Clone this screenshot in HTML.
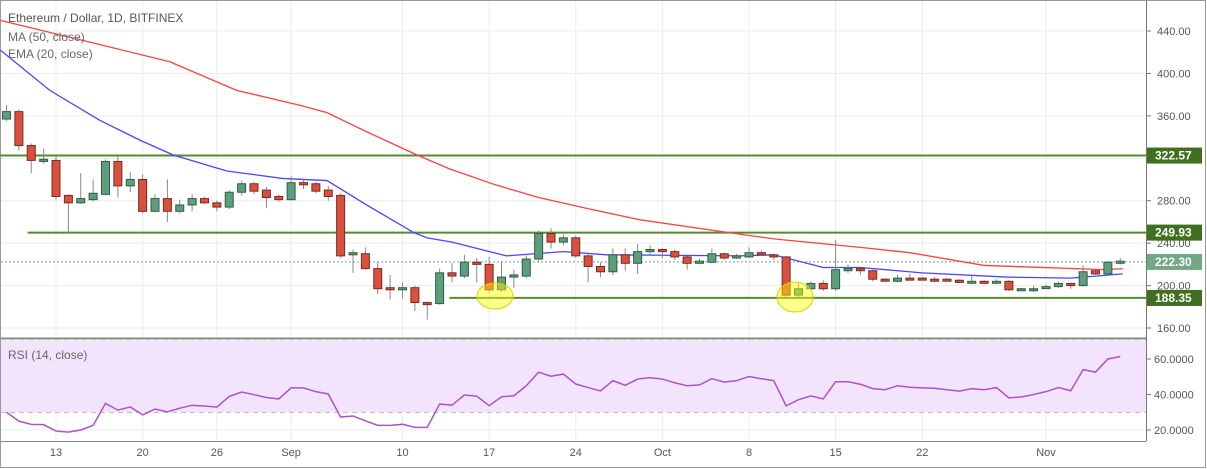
<!DOCTYPE html>
<html><head><meta charset="utf-8"><style>
html,body{margin:0;padding:0;background:#fff;}
svg{display:block;font-family:"Liberation Sans",sans-serif;}
</style></head><body>
<svg id="chart" width="1207" height="469" viewBox="0 0 1207 469">
<rect x="0.5" y="0.5" width="1205" height="467" fill="#fff" stroke="#9a9a9a"/>
<g id="grid"></g>
<rect x="1" y="341" width="1145" height="71" fill="#f3e4fd"/>
<g id="levels"></g>
<g id="lines"></g>
<g id="candles"></g>
<g id="rsi"></g>
<g id="axes"></g>
<text x="8" y="22" font-size="12" fill="#555">Ethereum / Dollar, 1D, BITFINEX</text>
<text x="8" y="41" font-size="12" fill="#666">MA (50, close)</text>
<text x="8" y="58" font-size="12" fill="#666">EMA (20, close)</text>
<text x="8" y="359" font-size="12" fill="#666">RSI (14, close)</text>
</svg>
<script>
const opens=[357,364,332,317,318,285,278,281,286,317,294,300,270,282,270,276,282,278,274,288,296,290,284,281,297,296,290,285,229,230,216,198,196,198,184,183,212,209,222,220,196,208,209,225,249,241,245,228,218,213,229,221,232,234,232,227,221,222,230,226,227,231,229,227,191,197,202,197,214,216,214,206,204,207,207,206,206,205,203,204,203,204,196,196,198,199,202,200,214,211,221];
const closes=[364,332,318,319,284,278,282,287,317,294,300,270,282,270,276,282,278,274,288,296,289,283,281,297,295,289,284,228,231,216,197,196,198,184,182,212,209,222,220,196,208,210,225,249,241,245,228,218,213,229,221,232,234,232,227,221,223,230,226,228,231,229,227,191,197,202,197,215,216,214,206,205,207,206,206,205,205,203,204,203,204,196,197,197,199,202,200,213,211,222,223];
const highs=[370,366,334,329,323,286,306,300,319,322,307,305,286,300,281,286,284,280,290,299,298,293,286,303,301,298,294,287,234,236,222,210,203,200,185,216,221,229,226,227,222,215,230,252,254,248,247,230,222,235,235,239,238,235,234,228,225,235,231,230,236,233,230,228,203,204,205,243,220,217,215,207,210,211,208,208,207,206,209,205,206,205,198,200,201,204,203,219,216,223,226];
const lows=[355,327,306,315,281,250,277,279,285,283,288,268,269,260,268,270,277,270,272,285,286,273,279,280,291,287,280,226,212,215,192,187,188,176,168,182,203,207,203,193,194,198,207,223,235,238,226,203,208,210,214,211,229,226,224,215,220,221,224,225,226,228,224,189,189,196,195,195,212,210,204,204,203,205,205,203,204,203,203,202,203,195,195,194,197,198,197,199,210,210,220];
const rsiValues=[30,25,23.2,23,19.4,18.8,20,22.6,35,31.2,33,28.5,31.8,30.2,32.3,33.9,33.5,32.9,38.9,41.4,39.9,38.3,37.5,43.7,43.7,41.6,40.3,27.3,27.9,25.2,22.6,22.6,23.2,21.5,21.5,34.6,34,39.7,39.1,33.7,38.7,39.3,44.9,52.6,50.3,51.5,45.9,43.9,42,47.8,45.2,48.7,49.5,48.7,46.6,44.9,45.4,48.9,47,47.8,50.1,48.9,47.8,33.6,37.1,39.2,37.5,47.2,47.2,45.8,43.3,42.7,44.9,44.1,43.7,43.5,42.7,41.9,43.3,42.7,43.9,38.1,38.6,40,41.6,43.9,42.1,54,52.6,60,61.4];
const emaDays=[-4.5,-0.5,3.5,6.8,9.5,13.8,18.3,21.9,25.1,28.9,30,32,36.4,41,44.5,55.3,58,62,65,70,76.8,82,86.2];
const emaValues=[422,384,356,337,323,308,301,299,276,250,245,241,228,232,229,228,229,217,217,212,208,207,211];
const maDays=[-4.5,3.6,9.2,14.6,19.7,21.9,25.1,29.2,31.8,35.5,39,43.2,47.2,54.3,58,65,69,75,84.7,86.2];
const maValues=[450,427,411,384,370,363,345,323,310,295,283,272,262,250,244,236,231,219,215,216];
const priceTicks=[440,400,360,280,240,200,160];
const rsiTicks=[60,40,20];
const dateLabels=["13","20","26","Sep","10","17","24","Oct","8","15","22","Nov"];
const dateDays=[0,7,13,19,28,35,42,49,56,63,70,80];
const levelValues=[322.57,249.93,188.35];
const levelStartDays=[-4.6,-2.3,31.8];
const lastPrice=222.30;
const NS="http://www.w3.org/2000/svg";
const X=d=>56+d*12.375;
const Y=p=>31+(440-p)*1.0607;
const RY=v=>359+(60-v)*1.775;
function mk(tag,attrs,parent,text){const e=document.createElementNS(NS,tag);for(const k in attrs)e.setAttribute(k,attrs[k]);if(text!==undefined)e.textContent=text;parent.appendChild(e);return e;}
const grid=document.getElementById('grid'),axes=document.getElementById('axes');
priceTicks.concat([320]).forEach(p=>{const l=mk('line',{x1:1,x2:1146,y1:Y(p),y2:Y(p),stroke:'#ececec','stroke-width':1},grid);

});
rsiTicks.forEach(v=>{const l=mk('line',{x1:1,x2:1146,y1:RY(v),y2:RY(v),stroke:'#ececec'},grid);

});
dateDays.forEach((d,i)=>{const l=mk('line',{x1:X(d),x2:X(d),y1:1,y2:441,stroke:'#ececec'},grid);


const t=mk('text',{x:X(d),y:456,'font-size':11,fill:'#555','text-anchor':'middle'},axes,dateLabels[i]);

});
mk('line',{x1:1146.5,x2:1146.5,y1:1,y2:441,stroke:'#777'},axes);
mk('line',{x1:1,x2:1146,y1:338.5,y2:338.5,stroke:'#888','stroke-width':2},axes);
mk('line',{x1:1,x2:1146,y1:441.5,y2:441.5,stroke:'#888'},axes);
priceTicks.forEach(p=>{mk('line',{x1:1146,x2:1151,y1:Y(p),y2:Y(p),stroke:'#777'},axes);
const t=mk('text',{x:1157,y:Y(p)+4,'font-size':11,fill:'#555'},axes,p.toFixed(2));

});
rsiTicks.forEach(v=>{mk('line',{x1:1146,x2:1151,y1:RY(v),y2:RY(v),stroke:'#777'},axes);
const t=mk('text',{x:1154,y:RY(v)+4,'font-size':11,fill:'#555'},axes,v.toFixed(4));

});
[70,30].forEach(v=>{const l=mk('line',{x1:1,x2:1146,y1:RY(v),y2:RY(v),stroke:'#aaa','stroke-dasharray':'5,4'},grid);

});
const lv=document.getElementById('levels');
mk('line',{x1:1,x2:1146,y1:Y(lastPrice),y2:Y(lastPrice),stroke:'#7aa88a','stroke-dasharray':'2,2'},lv);
levelValues.forEach((p,i)=>{const l=mk('line',{x1:X(levelStartDays[i]),x2:1146,y1:Y(p),y2:Y(p),stroke:'#558b2f','stroke-width':2},lv);


const r=mk('rect',{x:1147,y:Y(p)-8,width:55,height:16,fill:'#3f6f1f'},axes);


const t=mk('text',{x:1155,y:Y(p)+4,'font-size':12,'font-weight':'bold',fill:'#fff'},axes,p.toFixed(2));

});
const lr=mk('rect',{x:1147,y:Y(lastPrice)-8,width:55,height:16,fill:'#72a886'},axes);


const lt=mk('text',{x:1155,y:Y(lastPrice)+4,'font-size':12,'font-weight':'bold',fill:'#fff'},axes,lastPrice.toFixed(2));


const ln=document.getElementById('lines');
const maPath=mk('polyline',{points:maDays.map((d,i)=>X(d)+','+Y(maValues[i])).join(' '),fill:'none',stroke:'#ff4040','stroke-width':1.3},ln);


const emaPath=mk('polyline',{points:emaDays.map((d,i)=>X(d)+','+Y(emaValues[i])).join(' '),fill:'none',stroke:'#4646ff','stroke-width':1.3},ln);


const cg=document.getElementById('candles');
opens.forEach((o,i)=>{const c=closes[i],x=X(i-4),up=c>=o;
const g=mk('g',{},cg);


mk('line',{x1:x,x2:x,y1:Y(highs[i]),y2:Y(lows[i]),stroke:'#888','stroke-width':1},g);
const top=Y(Math.max(o,c)),h=Math.max(2,Y(Math.min(o,c))-top);
mk('rect',{x:x-4,y:top,width:8,height:h,fill:up?'#5f9e7c':'#d9503f',stroke:up?'#2f5e44':'#7a2a20','stroke-width':1},g);});
[[495,296,18,13],[795,297,18,15]].forEach(e=>{const el=mk('ellipse',{cx:e[0],cy:e[1],rx:e[2],ry:e[3],fill:'rgba(255,255,0,0.45)',stroke:'#d4d400'},cg);

});
const rg=document.getElementById('rsi');
const rp=mk('polyline',{points:rsiValues.map((v,i)=>X(i-4)+','+RY(v)).join(' '),fill:'none',stroke:'#b050d0','stroke-width':1.5},rg);


</script>
</body></html>
